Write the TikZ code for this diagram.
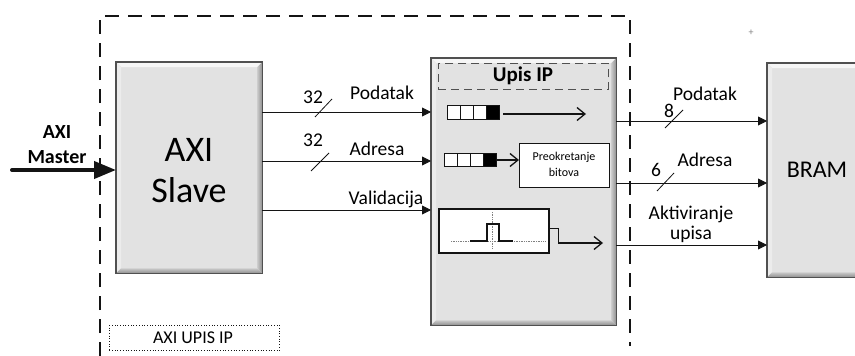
\documentclass[tikz,border=0pt]{standalone}
\usepackage{fontspec}
\setmainfont{Carlito}
\usetikzlibrary{arrows.meta,calc}
\definecolor{boxfill}{RGB}{226,226,226}
\definecolor{bevlight}{RGB}{246,246,246}
\definecolor{bevside}{RGB}{236,236,236}
\definecolor{bevdark}{RGB}{140,140,140}
\definecolor{bevmid}{RGB}{200,200,200}
\definecolor{edge}{RGB}{80,80,80}
\definecolor{ink}{RGB}{20,20,20}
\newcommand\mybevel[1]{%
  \fill[bevlight] (#1.north west) -- (#1.north east) -- ($(#1.north east)+(-5,5)$) -- ($(#1.north west)+(5,5)$) -- cycle;
  \fill[bevside] (#1.north west) -- ($(#1.north west)+(5,5)$) -- ($(#1.south west)+(5,-5)$) -- (#1.south west) -- cycle;
  \shade[left color=bevmid,right color=bevdark] (#1.north east) -- ($(#1.north east)+(-5,5)$) -- ($(#1.south east)+(-5,-5)$) -- (#1.south east) -- cycle;
  \shade[top color=bevmid,bottom color=bevdark] (#1.south west) -- ($(#1.south west)+(5,-5)$) -- ($(#1.south east)+(-5,-5)$) -- (#1.south east) -- cycle;
  \draw[edge,line width=1.1pt] (#1.north west) rectangle (#1.south east);
}
\begin{document}
\begin{tikzpicture}[x=1pt,y=-1pt,
  bevbox/.style={rectangle,fill=boxfill,draw=none,anchor=north west,inner sep=0pt},
  sig/.style={ink,line width=0.9pt,-{Triangle[length=9pt,width=9pt]}},
  open/.style={ink,line width=1.3pt,-{Straight Barb[length=8pt,width=13pt]}},
  lbl/.style={font=\fontsize{19.5}{22}\selectfont,anchor=base,inner sep=0pt},
  slash/.style={ink,line width=0.8pt},
  cell/.style={draw=ink,line width=0.9pt,fill=white,minimum width=13pt,minimum height=13.5pt,inner sep=0pt},
  cellb/.style={cell,fill=black}]
\useasboundingbox (0,0) rectangle (855,356);

% outer dashed boundary
\draw[ink,line width=2.6pt,dash pattern=on 14pt off 9pt] (100,356) -- (100,16) -- (630,16) -- (630,346);

% boxes
\node[bevbox,minimum width=146pt,minimum height=211pt] (slave) at (116,62) {};
\mybevel{slave}
\node[font=\fontsize{36}{41}\selectfont,align=center,inner sep=0pt] (slavet) at (189,171) {AXI\\Slave};

\node[bevbox,minimum width=185pt,minimum height=267pt] (upis) at (431,58) {};
\mybevel{upis}

\node[bevbox,minimum width=110pt,minimum height=214pt] (bram) at (767,63) {};
\mybevel{bram}
\node[font=\fontsize{24}{26}\selectfont,inner sep=0pt] (bramt) at (817,170) {BRAM};

% inner dashed title box
\node[draw=edge,line width=0.9pt,dash pattern=on 8pt off 5pt,anchor=north west,minimum width=170pt,minimum height=26pt,inner sep=0pt] (title) at (438,63) {};
\node[font=\bfseries\fontsize{21}{23}\selectfont,inner sep=0pt] (titlet) at (523,76) {Upis IP};

% AXI Master input
\node[font=\bfseries\fontsize{20}{25}\selectfont,align=center,inner sep=0pt] (master) at (57,145) {AXI\\Master};
\coordinate (min) at (12,170);
\draw[ink,line width=4pt,line cap=round,-{Triangle[length=22pt,width=17pt]}] (min) -- (slave.west |- min);

% AXI UPIS IP dotted label
\node[draw=ink,line width=0.7pt,dotted,anchor=north west,minimum width=170pt,minimum height=25pt,inner sep=0pt] (upisip) at (109,325) {};
\node[font=\fontsize{18}{20}\selectfont,inner sep=0pt,anchor=base] (upisipt) at (193,343) {AXI UPIS IP};

% inputs from slave to upis
\coordinate (s1) at (262,112);
\coordinate (s2) at (262,161);
\coordinate (s3) at (262,210);
\draw[sig] (s1) -- (upis.west |- s1);
\draw[sig] (s2) -- (upis.west |- s2);
\draw[sig] (s3) -- (upis.west |- s3);
\draw[slash] (315,117) -- (332,99);
\draw[slash] (311,171) -- (329,153);
\node[lbl] (n32a) at (313,103) {32};
\node[lbl] (n32b) at (313,146) {32};
\node[lbl] (lpod) at (382,99) {Podatak};
\node[lbl] (ladr) at (377,155) {Adresa};
\node[lbl] (lval) at (386,204) {Validacija};

% row 1 shift register
\node[cell] (a1) at (453.5,112.5) {};
\node[cell] (a2) at (466.5,112.5) {};
\node[cell] (a3) at (479.5,112.5) {};
\node[cellb] (a4) at (492.5,112.5) {};
\coordinate (a5) at (586,114);
\draw[open] ($(a4.east)+(4,1.5)$) -- (a5);

% row 2 shift register
\node[cell] (b1) at (450.5,160) {};
\node[cell] (b2) at (463.5,160) {};
\node[cell] (b3) at (476.5,160) {};
\node[cellb] (b4) at (489.5,160) {};
\node[draw=ink,line width=0.8pt,fill=white,anchor=north west,minimum width=90pt,minimum height=44pt,inner sep=0pt] (rev) at (519,143) {};
\node[font=\fontsize{12}{16}\selectfont,align=center,inner sep=0pt] (revt) at (564,164) {Preokretanje\\bitova};
\draw[open] (b4.east) -- (rev.west |- b4.east);

% row 3 pulse box
\node[draw=ink,line width=2pt,fill=white,anchor=north west,minimum width=110pt,minimum height=44pt,inner sep=0pt] (pulse) at (438,208) {};
\draw[gray,line width=0.7pt,densely dotted] (451,241) -- (545,241);
\draw[gray,line width=0.7pt,densely dotted] (492,212) -- (492,249);
\draw[ink,line width=2pt] (470,241) -- (487,241) -- (487,224) -- (499,224) -- (499,241) -- (513,241);
\coordinate (p1) at (558,228);
\coordinate (p2) at (603,243);
\draw[ink,line width=0.9pt] (pulse.east |- p1) -- (p1) -- (p1 |- p2);
\draw[open] (p1 |- p2) -- (p2);

% outputs to BRAM
\coordinate (o1) at (616,121);
\coordinate (o2) at (616,183);
\coordinate (o3) at (616,245);
\draw[sig] (o1) -- (bram.west |- o1);
\draw[sig] (o2) -- (bram.west |- o2);
\draw[sig] (o3) -- (bram.west |- o3);
\draw[slash] (665,128) -- (683,110);
\draw[slash] (657,191) -- (674,173);
\node[lbl] (n8) at (669,117) {8};
\node[lbl] (n6) at (656,176) {6};
\node[lbl] (opod) at (705,100) {Podatak};
\node[lbl] (oadr) at (705,166) {Adresa};
\node[lbl] (oakt) at (691,219) {Aktiviranje};
\node[lbl] (oups) at (691,239) {upisa};

% plus mark
\node[font=\fontsize{10}{10}\selectfont,text=gray,inner sep=0pt] (plus) at (751,33) {+};
\end{tikzpicture}
\end{document}
